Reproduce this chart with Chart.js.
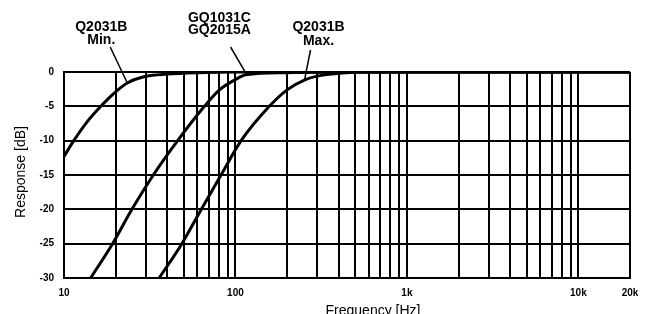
<!DOCTYPE html>
<html>
<head>
<meta charset="utf-8">
<script src="https://cdn.jsdelivr.net/npm/chart.js@4/dist/chart.umd.min.js"></script>
<style>
  html, body { margin: 0; padding: 0; background: #fff; }
  canvas { display: block; }
</style>
</head>
<body>
<canvas id="chart" width="649" height="314"></canvas>
<script>
// curves (Hz / dB)
const minFreq = [10, 11.4, 13.5, 16.4, 20, 23.4, 30, 40, 60, 100, 20000];
const minDb   = [-12.3, -10, -7.4, -5, -2.9, -1.6, -0.63, -0.3, -0.1, 0, 0];

const gqFreq = [14.3, 19.2, 24.9, 33.2, 46, 65.9, 80.6, 100, 115, 200, 400, 20000];
const gqDb   = [-30, -25, -20, -15, -10, -5, -2.6, -1.1, -0.4, -0.1, 0, 0];

const maxFreq = [35.9, 48.7, 61.6, 82.4, 107.9, 157.6, 200, 256, 300, 400, 600, 20000];
const maxDb   = [-30, -25, -20.5, -15, -10, -5, -2.6, -1.1, -0.6, -0.2, 0, 0];

// axis ticks
const gridFreqs = [10, 20, 30, 40, 50, 60, 70, 80, 90,
  100, 200, 300, 400, 500, 600, 700, 800, 900,
  1000, 2000, 3000, 4000, 5000, 6000, 7000, 8000, 9000,
  10000, 20000];
const tickValues = [10, 100, 1000, 10000, 20000];
const tickLabels = ['10', '100', '1k', '10k', '20k'];
const dbMin = -30, dbMax = 0, dbStep = 5;

// curve captions
const noteTexts = [
  ['Q2031B', 'Min.'],
  ['GQ1031C', 'GQ2015A'],
  ['Q2031B', 'Max.']
];
const noteTargets = [[23.4, -1.6], [117, -0.5], [253, -1.1]];

const toPoints = (xs, ys) => xs.map((x, i) => ({ x: x, y: ys[i] }));

const line = (xs, ys) => ({
  data: toPoints(xs, ys),
  borderColor: '#000',
  borderWidth: 3,
  pointRadius: 0,
  fill: false,
  cubicInterpolationMode: 'monotone'
});

// label placement (label x in Hz, text baselines and pointer start in px)
const noteLayout = [
  { freq: 16.5, base: [31, 44], from: [18.6, 47] },
  { freq: 80.6, base: [21.5, 34], from: [93.6, 47] },
  { freq: 305, base: [30.5, 45], from: [274, 50] }
];

const annotate = {
  id: 'annotate',
  afterDraw(chart) {
    const c = chart.ctx;
    const xs = chart.scales.x, ys = chart.scales.y;
    const area = chart.chartArea;
    c.save();
    c.fillStyle = '#000';
    c.strokeStyle = '#000';

    c.font = 'bold 14px "Liberation Sans", Arial, sans-serif';
    c.textAlign = 'center';
    c.textBaseline = 'alphabetic';
    noteTexts.forEach((lines, i) => {
      const L = noteLayout[i];
      const cx = xs.getPixelForValue(L.freq);
      lines.forEach((t, j) => c.fillText(t, cx, L.base[j]));
      c.lineWidth = 1.5;
      c.beginPath();
      c.moveTo(xs.getPixelForValue(L.from[0]), L.from[1]);
      c.lineTo(xs.getPixelForValue(noteTargets[i][0]), ys.getPixelForValue(noteTargets[i][1]));
      c.stroke();
    });

    // axis titles
    c.font = '14px "Liberation Sans", Arial, sans-serif';
    c.textAlign = 'center';
    c.textBaseline = 'alphabetic';
    c.fillText('Frequency [Hz]', (area.left + area.right) / 2 + 26, 315);

    c.save();
    c.translate(21, (area.top + area.bottom) / 2 - 3);
    c.rotate(-Math.PI / 2);
    c.textBaseline = 'middle';
    c.fillText('Response [dB]', 0, 0);
    c.restore();

    c.restore();
  }
};

const tickFont = { family: '"Liberation Sans", Arial, sans-serif', size: 10, weight: 'bold' };

new Chart(document.getElementById('chart').getContext('2d'), {
  type: 'line',
  data: {
    datasets: [line(minFreq, minDb), line(gqFreq, gqDb), line(maxFreq, maxDb)]
  },
  options: {
    responsive: false,
    devicePixelRatio: 1,
    animation: false,
    layout: { padding: { top: 72, right: 19, left: 0, bottom: 0 } },
    plugins: { legend: { display: false }, tooltip: { enabled: false } },
    scales: {
      x: {
        type: 'logarithmic',
        min: 10,
        max: 20000,
        afterBuildTicks: s => { s.ticks = gridFreqs.map(v => ({ value: v })); },
        afterFit: s => { s.height = 36; },
        grid: { color: '#000', lineWidth: 2, drawTicks: false },
        border: { color: '#000', width: 2 },
        ticks: {
          autoSkip: false,
          maxRotation: 0,
          padding: 9,
          color: '#000',
          font: tickFont,
          callback: v => {
            const k = tickValues.indexOf(v);
            return k >= 0 ? tickLabels[k] : '';
          }
        }
      },
      y: {
        min: dbMin,
        max: dbMax,
        afterFit: s => { s.width = 64; },
        grid: { color: '#000', lineWidth: 2, drawTicks: false },
        border: { color: '#000', width: 2 },
        ticks: { stepSize: dbStep, padding: 10, color: '#000', font: tickFont }
      }
    }
  },
  plugins: [annotate]
});
</script>
</body>
</html>
